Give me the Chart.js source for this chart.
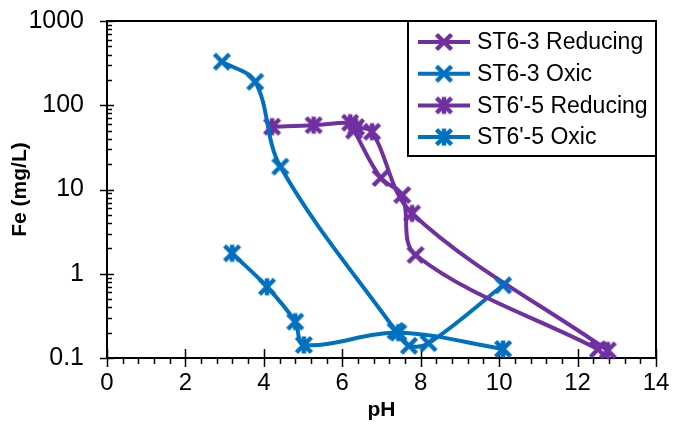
<!DOCTYPE html>
<html><head><meta charset="utf-8">
<script src="https://cdn.jsdelivr.net/npm/chart.js@4/dist/chart.umd.min.js"></script>
<style>html,body{margin:0;padding:0;background:#fff}#wrap{width:674px;height:435px;position:relative}</style>
</head><body><div id="wrap"><canvas id="c" width="674" height="435"></canvas></div>
<script>
// ---- data ----
const seriesNames = ["ST6-3 Reducing", "ST6-3 Oxic", "ST6'-5 Reducing", "ST6'-5 Oxic"];
const st63RedPH  = [6.3, 6.98, 7.53, 7.87, 12.52];
const st63RedFe  = [50, 13.7, 8.6, 1.67, 0.127];
const st63OxPH   = [2.93, 3.78, 4.42, 7.36, 7.7, 8.2, 10.1];
const st63OxFe   = [329, 190, 18.7, 0.21, 0.14, 0.15, 0.73];
const st65RedPH  = [4.21, 5.27, 6.2, 6.35, 6.76, 7.78, 12.77];
const st65RedFe  = [55.7, 58, 62, 55, 48.5, 5.2, 0.123];
const st65OxPH   = [3.19, 4.08, 4.8, 5.02, 7.43, 10.1];
const st65OxFe   = [1.75, 0.70, 0.27, 0.143, 0.2, 0.128];
const xTicks = [0, 2, 4, 6, 8, 10, 12, 14];
const yTicks = [0.1, 1, 10, 100, 1000];

const PURPLE = '#7030A0', BLUE = '#0070C0';
const FONT = "'Liberation Sans', Arial, sans-serif";

function pts(xs, ys) { return xs.map((x, i) => ({ x: x, y: ys[i] })); }

function makeMarker(color, star) {
  const s = 26, m = s / 2, h = 7.5;
  const c = document.createElement('canvas');
  c.width = c.height = s;
  const g = c.getContext('2d');
  g.strokeStyle = color; g.lineWidth = 4.5; g.lineCap = 'butt';
  g.beginPath();
  g.moveTo(m - h, m - h); g.lineTo(m + h, m + h);
  g.moveTo(m + h, m - h); g.lineTo(m - h, m + h);
  if (star) { g.moveTo(m, m - h - 1); g.lineTo(m, m + h + 1); }
  g.stroke();
  return c;
}

const markers = [makeMarker(PURPLE, false), makeMarker(BLUE, false), makeMarker(PURPLE, true), makeMarker(BLUE, true)];
const colors = [PURPLE, BLUE, PURPLE, BLUE];
const dataSets = [pts(st63RedPH, st63RedFe), pts(st63OxPH, st63OxFe), pts(st65RedPH, st65RedFe), pts(st65OxPH, st65OxFe)];

const datasets = seriesNames.map((n, i) => ({
  label: n, data: dataSets[i], showLine: true, tension: 0.35,
  borderColor: colors[i], borderWidth: 4, backgroundColor: colors[i],
  pointStyle: markers[i], pointRadius: 9, pointHoverRadius: 9, clip: false
}));

function isMajor(v) { const l = Math.log10(v); return Math.abs(l - Math.round(l)) < 1e-9; }
function zeroPad(s) { s.paddingLeft = 0; s.paddingRight = 0; s.paddingTop = 0; s.paddingBottom = 0; }

const framePlugin = {
  id: 'frame',
  beforeDatasetsDraw(chart) {
    const { ctx, chartArea: a, scales } = chart;
    ctx.save();
    ctx.strokeStyle = '#000'; ctx.lineWidth = 2;
    ctx.strokeRect(a.left, a.top, a.right - a.left, a.bottom - a.top);
    ctx.lineWidth = 1.5;
    ctx.beginPath();
    const ys = scales.y;
    for (let d = -1; d <= 3; d++) {
      for (let k = 1; k <= 9; k++) {
        const v = k * Math.pow(10, d);
        if (v > 1000 + 1e-9) break;
        const p = Math.round(ys.getPixelForValue(v)) + 0.5;
        if (k === 1) { ctx.moveTo(a.left - 7, p); ctx.lineTo(a.left + 7, p); }
        else { ctx.moveTo(a.left, p); ctx.lineTo(a.left + 5, p); }
      }
    }
    const xs = scales.x;
    for (let i = 0; i <= 35; i++) {
      const v = i * 0.4;
      const p = Math.round(xs.getPixelForValue(v)) + 0.5;
      if (i % 5 === 0) { ctx.moveTo(p, a.bottom - 9); ctx.lineTo(p, a.bottom + 9); }
      else { ctx.moveTo(p, a.bottom); ctx.lineTo(p, a.bottom + 6); }
    }
    ctx.stroke();
    ctx.restore();
  },
  afterDatasetsDraw(chart) {
    const { ctx, chartArea: a } = chart;
    ctx.save();
    const bx = a.right - 248, by = a.top, bw = 248, bh = 135;
    ctx.fillStyle = '#fff';
    ctx.fillRect(bx, by, bw, bh);
    ctx.strokeStyle = '#000'; ctx.lineWidth = 2;
    ctx.strokeRect(bx, by, bw, bh);
    ctx.font = '23px ' + FONT;
    ctx.textBaseline = 'middle'; ctx.textAlign = 'left';
    seriesNames.forEach((n, i) => {
      const yy = by + 21 + i * 31.7;
      ctx.strokeStyle = colors[i]; ctx.lineWidth = 4;
      ctx.beginPath(); ctx.moveTo(bx + 10, yy); ctx.lineTo(bx + 62, yy); ctx.stroke();
      const mk = markers[i];
      ctx.drawImage(mk, bx + 36 - mk.width / 2, yy - mk.height / 2);
      ctx.fillStyle = '#000';
      ctx.fillText(n, bx + 69, yy + 1);
    });
    ctx.restore();
  }
};

new Chart(document.getElementById('c'), {
  type: 'scatter',
  data: { datasets: datasets },
  options: {
    responsive: false, animation: false, devicePixelRatio: 1,
    layout: { padding: { top: 21, right: 18, left: 0, bottom: 0 } },
    plugins: { legend: { display: false }, tooltip: { enabled: false } },
    scales: {
      x: {
        type: 'linear', min: 0, max: 14,
        afterBuildTicks: s => { s.ticks = xTicks.map(v => ({ value: v })); },
        afterFit: s => { s.height = 77; zeroPad(s); },
        grid: { display: false, drawTicks: false },
        border: { display: false },
        ticks: { color: '#000', font: { family: FONT, size: 24 }, padding: 11, maxRotation: 0 },
        title: { display: true, text: 'pH', color: '#000', font: { family: FONT, size: 21, weight: 'bold', lineHeight: 1.2 }, padding: { top: 0, bottom: 12 } }
      },
      y: {
        type: 'logarithmic', min: 0.1, max: 1000,
        afterBuildTicks: s => { s.ticks = yTicks.map(v => ({ value: v })); },
        afterFit: s => { s.width = 107; zeroPad(s); },
        grid: { display: false, drawTicks: false },
        border: { display: false },
        ticks: { color: '#000', font: { family: FONT, size: 25 }, padding: 23, autoSkip: false,
          callback: v => isMajor(v) ? String(v) : '' },
        title: { display: true, text: 'Fe (mg/L)', color: '#000', font: { family: FONT, size: 21, weight: 'bold', lineHeight: 1.2 }, padding: { top: 8, bottom: 0 } }
      }
    }
  },
  plugins: [framePlugin]
});
</script>
</body></html>
